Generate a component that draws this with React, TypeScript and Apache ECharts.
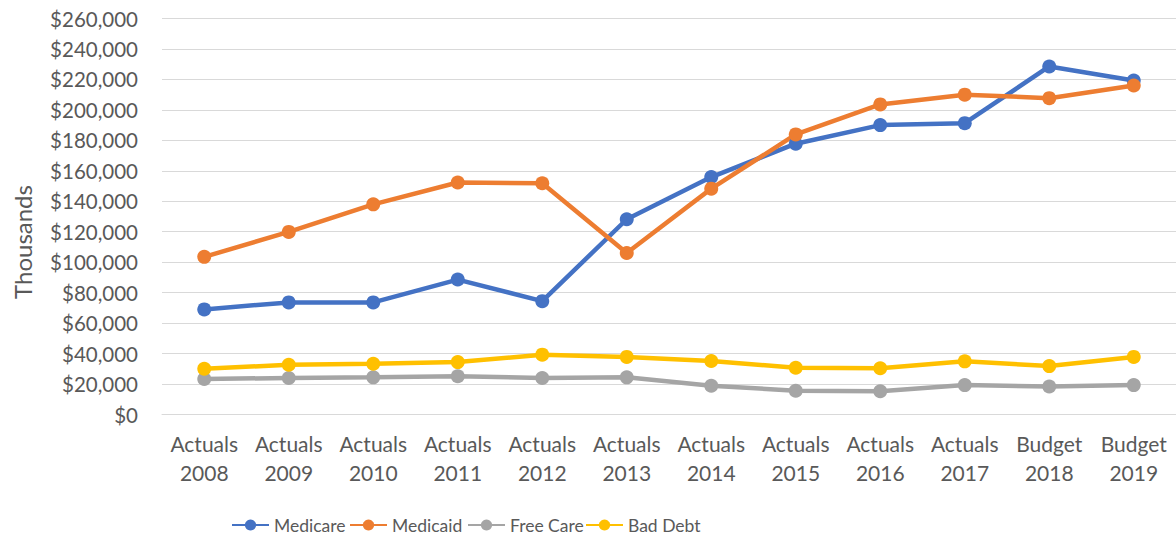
import React, { useEffect, useRef } from "react";
import * as echarts from "echarts";

const categories = [
  "Actuals\n2008", "Actuals\n2009", "Actuals\n2010", "Actuals\n2011", "Actuals\n2012", "Actuals\n2013",
  "Actuals\n2014", "Actuals\n2015", "Actuals\n2016", "Actuals\n2017", "Budget\n2018", "Budget\n2019",
];
const seriesNames = ["Medicare", "Medicaid", "Free Care", "Bad Debt"];
const medicare = [69000, 73600, 73600, 88600, 74400, 128200, 155900, 177800, 190000, 191300, 228500, 219300];
const medicaid = [103500, 119900, 138000, 152300, 151800, 106000, 148300, 183900, 203600, 210000, 207700, 216000];
const freeCare = [23300, 24000, 24400, 25100, 24000, 24400, 18900, 15600, 15300, 19300, 18400, 19300];
const badDebt = [30000, 32700, 33300, 34400, 39300, 37800, 35100, 30700, 30400, 34900, 31800, 37800];

const FONT = "Lato, 'Noto Sans', sans-serif";
const TXT = "#595959";
const COLORS = ["#4472C4", "#ED7D31", "#A5A5A5", "#FFC000"];

export default function App() {
  const ref = useRef<HTMLDivElement>(null);
  useEffect(() => {
    document.body.style.margin = "0";
    const chart = echarts.init(ref.current!, undefined, { renderer: "svg" });
    const mk = (name: string, data: number[], color: string) => ({
      name,
      type: "line",
      data,
      symbol: "circle",
      symbolSize: 14,
      lineStyle: { width: 4.5, color },
      itemStyle: { color },
      z: 2,
    });
    const legends = seriesNames.map((n, i) => ({
      left: 226 + i * 118,
      top: 511,
      itemWidth: 37,
      itemHeight: 14,
      textStyle: { fontFamily: FONT, fontSize: 17.5, color: TXT },
      data: [n],
    }));
    chart.setOption({
      animation: false,
      textStyle: { fontFamily: FONT },
      grid: { left: 162, right: -1, top: 18.5, bottom: 124.5, containLabel: false },
      legend: legends,
      graphic: [
        {
          type: "text",
          x: 22,
          y: 242,
          rotation: Math.PI / 2,
          style: {
            text: "Thousands",
            fontFamily: FONT,
            fontSize: 24,
            fill: TXT,
            align: "center",
            verticalAlign: "middle",
          },
        },
      ],
      xAxis: {
        type: "category",
        data: categories,
        boundaryGap: true,
        axisLine: { show: true, lineStyle: { color: "#D9D9D9", width: 1 } },
        axisTick: { show: false },
        axisLabel: {
          color: TXT,
          fontFamily: FONT,
          fontSize: 21,
          lineHeight: 29,
          margin: 14,
          interval: 0,
        },
      },
      yAxis: {
        type: "value",
        min: 0,
        max: 260000,
        interval: 20000,
        axisLine: { show: false },
        axisTick: { show: false },
        splitLine: { lineStyle: { color: "#D9D9D9", width: 1 } },
        axisLabel: {
          color: TXT,
          fontFamily: FONT,
          fontSize: 20.5,
          margin: 24,
          formatter: (v: number) => "$" + v.toLocaleString("en-US"),
        },
      },
      series: [
        mk(seriesNames[0], medicare, COLORS[0]),
        mk(seriesNames[1], medicaid, COLORS[1]),
        mk(seriesNames[2], freeCare, COLORS[2]),
        mk(seriesNames[3], badDebt, COLORS[3]),
      ],
    });
    return () => chart.dispose();
  }, []);
  return <div ref={ref} style={{ width: 1176, height: 539 }} />;
}
